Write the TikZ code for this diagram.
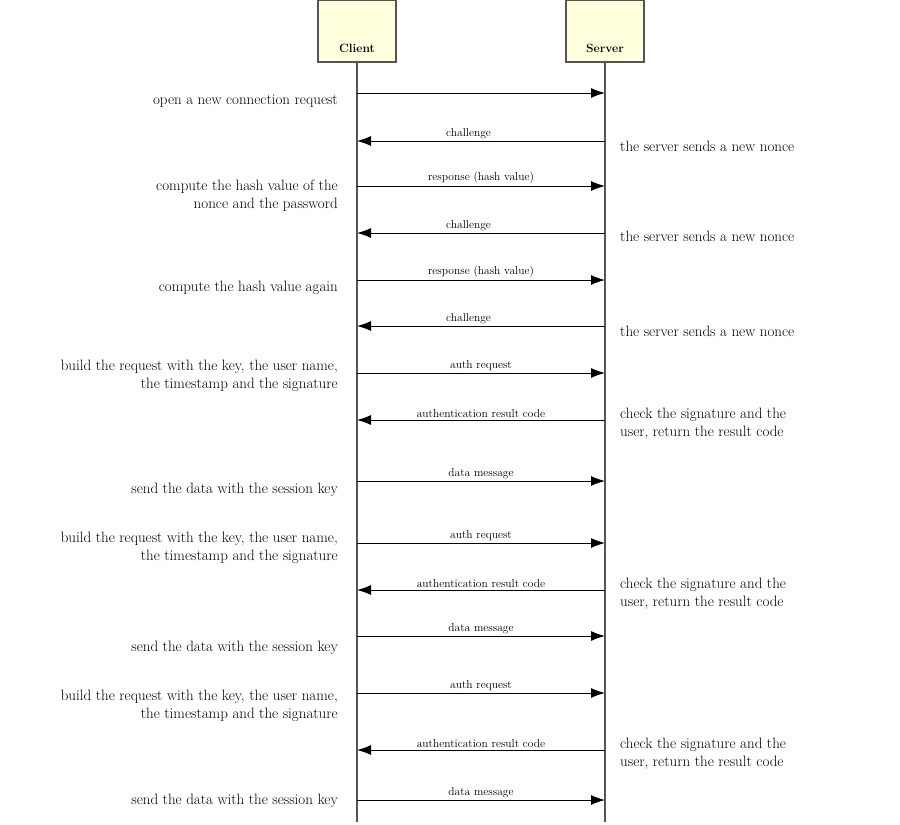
\documentclass[tikz,border=0pt]{standalone}
\usetikzlibrary{arrows.meta,positioning}

\definecolor{boxfill}{HTML}{FFFFDD}
\definecolor{lifegray}{HTML}{555555}

\tikzset{
  actor/.style={draw=lifegray, fill=boxfill, line width=1.2pt, minimum width=78pt, minimum height=62pt},
  actorname/.style={font=\fontsize{12}{14}\selectfont\bfseries, inner sep=0pt},
  life/.style={draw=lifegray, line width=1.4pt},
  msg/.style={draw=black, line width=1pt, -{Latex[length=14pt,width=10pt]}},
  msglabel/.style={font=\fontsize{11.5}{13}\selectfont, above=1pt, inner sep=1pt},
  leftnote/.style={font=\fontsize{15}{18}\selectfont, anchor=east, align=right, inner sep=0pt},
  rightnote/.style={font=\fontsize{15}{18}\selectfont, anchor=west, align=left, inner sep=0pt}
}

\begin{document}
\begin{tikzpicture}[x=1pt,y=-1pt]
        \useasboundingbox (0,0) rectangle (900,825);
        % the two parties
        \node[actor] (client) at (357,31) {};
        \node[actorname, above=10pt of client.south] (clientname) {Client};
        \node[actor] (server) at (605,31) {};
        \node[actorname, above=10pt of server.south] (servername) {Server};
        \coordinate (clientend) at (357,822);
        \coordinate (serverend) at (605,822);
        \draw[life] (client.south) -- (clientend);
        \draw[life] (server.south) -- (serverend);
        % points on the life lines
        \coordinate (c1) at (357,93);   \coordinate (s1) at (605,93);
        \coordinate (c2) at (357,141);  \coordinate (s2) at (605,141);
        \coordinate (c3) at (357,186);  \coordinate (s3) at (605,186);
        \coordinate (c4) at (357,233);  \coordinate (s4) at (605,233);
        \coordinate (c5) at (357,280);  \coordinate (s5) at (605,280);
        \coordinate (c6) at (357,326);  \coordinate (s6) at (605,326);
        \coordinate (c7) at (357,373);  \coordinate (s7) at (605,373);
        \coordinate (c8) at (357,420);  \coordinate (s8) at (605,420);
        \coordinate (c9) at (357,481);  \coordinate (s9) at (605,481);
        \coordinate (c10) at (357,543); \coordinate (s10) at (605,543);
        \coordinate (c11) at (357,590); \coordinate (s11) at (605,590);
        \coordinate (c12) at (357,636); \coordinate (s12) at (605,636);
        \coordinate (c13) at (357,693); \coordinate (s13) at (605,693);
        \coordinate (c14) at (357,750); \coordinate (s14) at (605,750);
        \coordinate (c15) at (357,800); \coordinate (s15) at (605,800);
        % messages
        \draw[msg] (c1) -- (s1);
        \draw[msg] (s2) -- (c2) node[msglabel, pos=0.55] (m2) {challenge};
        \draw[msg] (c3) -- (s3) node[msglabel, midway] (m3) {response (hash value)};
        \draw[msg] (s4) -- (c4) node[msglabel, pos=0.55] (m4) {challenge};
        \draw[msg] (c5) -- (s5) node[msglabel, midway] (m5) {response (hash value)};
        \draw[msg] (s6) -- (c6) node[msglabel, pos=0.55] (m6) {challenge};
        \draw[msg] (c7) -- (s7) node[msglabel, midway] (m7) {auth request};
        \draw[msg] (s8) -- (c8) node[msglabel, midway] (m8) {authentication result code};
        \draw[msg] (c9) -- (s9) node[msglabel, midway] (m9) {data message};
        \draw[msg] (c10) -- (s10) node[msglabel, midway] (m10) {auth request};
        \draw[msg] (s11) -- (c11) node[msglabel, midway] (m11) {authentication result code};
        \draw[msg] (c12) -- (s12) node[msglabel, midway] (m12) {data message};
        \draw[msg] (c13) -- (s13) node[msglabel, midway] (m13) {auth request};
        \draw[msg] (s14) -- (c14) node[msglabel, midway] (m14) {authentication result code};
        \draw[msg] (c15) -- (s15) node[msglabel, midway] (m15) {data message};
        % notes on the client side
        \node[leftnote] (n1) at (338,101) {open a new connection request};
        \node[leftnote] (n3) at (338,196) {compute the hash value of the\\nonce and the password};
        \node[leftnote] (n5) at (338,288) {compute the hash value again};
        \node[leftnote] (n7) at (338,376) {build the request with the key, the user name,\\the timestamp and the signature};
        \node[leftnote] (n9) at (338,490) {send the data with the session key};
        \node[leftnote] (n10) at (338,548) {build the request with the key, the user name,\\the timestamp and the signature};
        \node[leftnote] (n12) at (338,648) {send the data with the session key};
        \node[leftnote] (n13) at (338,706) {build the request with the key, the user name,\\the timestamp and the signature};
        \node[leftnote] (n15) at (338,801) {send the data with the session key};
        % notes on the server side
        \node[rightnote] (n2) at (620,146) {the server sends a new nonce};
        \node[rightnote] (n4) at (620,236) {the server sends a new nonce};
        \node[rightnote] (n6) at (620,331) {the server sends a new nonce};
        \node[rightnote] (n8) at (620,424) {check the signature and the\\user, return the result code};
        \node[rightnote] (n11) at (620,594) {check the signature and the\\user, return the result code};
        \node[rightnote] (n14) at (620,754) {check the signature and the\\user, return the result code};
\end{tikzpicture}
\end{document}
